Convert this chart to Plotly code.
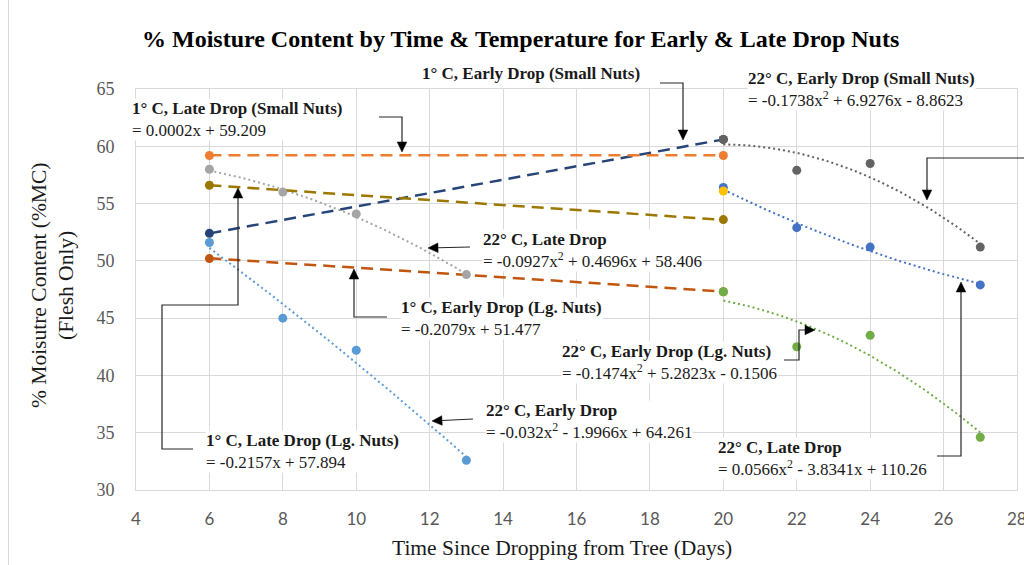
import numpy as np
import plotly.graph_objects as go

# ---------------- data ----------------
x_early_1 = [6, 20]
y_1c_early_small = [52.4, 60.6]
y_1c_late_small = [59.2, 59.2]
y_1c_late_lg = [56.6, 53.6]
y_1c_early_lg = [50.2, 47.3]

x_22_late = [6, 8, 10, 13]
y_22c_late_drop_gray = [58.0, 56.0, 54.1, 48.8]
y_22c_early_drop_lblue = [51.6, 45.0, 42.2, 32.6]

x_22_2 = [20, 22, 24, 27]
y_22c_early_small = [60.6, 57.9, 58.5, 51.2]
y_22c_late_blue = [56.4, 52.9, 51.2, 47.9]
y_22c_early_lg = [47.3, 42.5, 43.5, 34.6]

x_yellow = [20]
y_yellow = [56.1]

# trend line coefficients as printed in the chart (highest power first)
c_1c_late_small = [0.0002, 59.209]
c_1c_early_lg = [-0.2079, 51.477]
c_1c_late_lg = [-0.2157, 57.894]
c_22c_early_small = [-0.1738, 6.9276, -8.8623]
c_22c_late_gray = [-0.0927, 0.4696, 58.406]
c_22c_early_lblue = [-0.032, -1.9966, 64.261]
c_22c_early_lg = [-0.1474, 5.2823, -0.1506]
c_22c_late_blue = [0.0566, -3.8341, 110.26]

x_ticks = [4, 6, 8, 10, 12, 14, 16, 18, 20, 22, 24, 26, 28]
y_ticks = [30, 35, 40, 45, 50, 55, 60, 65]

# ---------------- layout geometry (pixels) ----------------
W, H = 1024, 565
L, R, T, B = 136, 1017, 89, 490


def px2x(px):
    return (px - L) / (R - L)


def py2y(py):
    return (B - py) / (B - T)


NAVY = "#264478"
ORANGE = "#ED7D31"
OLIVE = "#9C7800"
BROWN = "#C0560F"
LGRAY = "#A5A5A5"
LBLUE = "#5B9BD5"
DGRAY = "#636363"
BLUE = "#4472C4"
YELLOW = "#FFC000"
GREEN = "#70AD47"

fig = go.Figure()


def trend(xs, coefs, color, dash, width):
    xx = np.linspace(min(xs), max(xs), 80)
    yy = np.polyval(coefs, xx)
    fig.add_trace(go.Scatter(x=xx, y=yy, mode="lines",
                             line=dict(color=color, dash=dash, width=width),
                             hoverinfo="skip", showlegend=False))


def pts(xs, ys, color):
    fig.add_trace(go.Scatter(x=xs, y=ys, mode="markers",
                             marker=dict(color=color, size=9),
                             showlegend=False))


DASH = "12px,7px"
DOT = "2px,3px"

# 22 C dotted trend lines
trend(x_22_late, c_22c_late_gray, LGRAY, DOT, 2)
trend(x_22_late, c_22c_early_lblue, LBLUE, DOT, 2)
trend(x_22_2, c_22c_early_small, DGRAY, DOT, 2)
trend(x_22_2, c_22c_late_blue, BLUE, DOT, 2)
trend(x_22_2, c_22c_early_lg, GREEN, DOT, 2)

# 1 C dashed trend lines
c_navy = np.polyfit(x_early_1, y_1c_early_small, 1)
trend(x_early_1, c_navy, NAVY, DASH, 2.5)
trend(x_early_1, c_1c_late_small, ORANGE, DASH, 2.5)
trend(x_early_1, c_1c_late_lg, OLIVE, DASH, 2.5)
trend(x_early_1, c_1c_early_lg, BROWN, DASH, 2.5)

# points
pts(x_early_1, y_1c_early_small, NAVY)
pts(x_early_1, y_1c_late_small, ORANGE)
pts(x_early_1, y_1c_late_lg, OLIVE)
pts(x_early_1, y_1c_early_lg, BROWN)
pts(x_22_late, y_22c_late_drop_gray, LGRAY)
pts(x_22_late, y_22c_early_drop_lblue, LBLUE)
pts(x_22_2, y_22c_early_small, DGRAY)
pts(x_22_2, y_22c_late_blue, BLUE)
pts(x_yellow, y_yellow, YELLOW)
pts(x_22_2, y_22c_early_lg, GREEN)


# ---------------- labels ----------------
def fmt_eq(c):
    def term(v, p, first):
        s = f"{abs(v):g}"
        if p == 2:
            s += "x<sup>2</sup>"
        elif p == 1:
            s += "x"
        if first:
            return ("-" if v < 0 else "") + s
        return (" - " if v < 0 else " + ") + s
    n = len(c) - 1
    return "= " + "".join(term(v, n - i, i == 0) for i, v in enumerate(c))


SERIF = "Liberation Serif"
labels = [
    ("1° C, Late Drop (Small Nuts)", c_1c_late_small, 131, 108, 130),
    ("1° C, Early Drop (Small Nuts)", None, 421, 73, None),
    ("22° C, Early Drop (Small Nuts)", c_22c_early_small, 747, 78, 101),
    ("22° C, Late Drop", c_22c_late_gray, 482, 239, 262),
    ("1° C, Early Drop (Lg. Nuts)", c_1c_early_lg, 400, 308, 329),
    ("22° C, Early Drop (Lg. Nuts)", c_22c_early_lg, 561, 352, 373),
    ("1° C, Late Drop (Lg. Nuts)", c_1c_late_lg, 205, 440, 462),
    ("22° C, Early Drop", c_22c_early_lblue, 485, 411, 432),
    ("22° C, Late Drop", c_22c_late_blue, 717, 448, 469),
]

annotations = []
for name, coefs, left, yb, ye in labels:
    if coefs is None:
        txt = f"<b>{name}</b>"
        yc = yb
    else:
        txt = f"<b>{name}</b><br>{fmt_eq(coefs)}"
        yc = (yb + ye) / 2
    annotations.append(dict(text=txt, x=px2x(left), y=py2y(yc), xref="paper", yref="paper",
                            xanchor="left", yanchor="middle", align="left", showarrow=False,
                            bgcolor="white", borderpad=0,
                            font=dict(family=SERIF, size=17, color="#1a1a1a")))

# title & axis titles
annotations.append(dict(text="<b>% Moisture Content by Time & Temperature for Early & Late Drop Nuts</b>",
                        x=px2x(520), y=py2y(39), xref="paper", yref="paper", showarrow=False,
                        xanchor="center", yanchor="middle",
                        font=dict(family=SERIF, size=24, color="#000000")))
annotations.append(dict(text="Time Since Dropping from Tree (Days)",
                        x=px2x(562), y=py2y(548), xref="paper", yref="paper", showarrow=False,
                        xanchor="center", yanchor="middle",
                        font=dict(family=SERIF, size=21.5, color="#1a1a1a")))
annotations.append(dict(text="% Moisutre Content (%MC)",
                        x=px2x(39), y=py2y(286), xref="paper", yref="paper", showarrow=False,
                        xanchor="center", yanchor="middle", textangle=-90,
                        font=dict(family=SERIF, size=21.5, color="#1a1a1a")))
annotations.append(dict(text="(Flesh Only)",
                        x=px2x(66), y=py2y(286), xref="paper", yref="paper", showarrow=False,
                        xanchor="center", yanchor="middle", textangle=-90,
                        font=dict(family=SERIF, size=21.5, color="#1a1a1a")))
# last x tick label, partly outside the page as in the reference
annotations.append(dict(text=str(x_ticks[-1]), x=x_ticks[-1], y=py2y(518), xref="x", yref="paper",
                        showarrow=False, xanchor="center", yanchor="middle",
                        font=dict(family="Lato", size=17, color="#595959")))

# ---------------- connectors ----------------
connectors = [
    [(379, 117), (402, 117), (402, 152)],
    [(660, 83), (683, 83), (683, 140)],
    [(1030, 158), (927, 158), (927, 200)],
    [(470, 247), (428, 248)],
    [(387, 317), (354, 317), (354, 269)],
    [(784, 360), (799, 360), (799, 330), (815, 330)],
    [(193, 449), (162, 449), (162, 305), (238, 305), (238, 188)],
    [(473, 419), (432, 421)],
    [(937, 456), (961, 456), (961, 282)],
]

shapes = []
LC = "#262626"
for poly in connectors:
    (x1, y1), (x2, y2) = poly[-2], poly[-1]
    d = np.hypot(x2 - x1, y2 - y1)
    ux, uy = (x2 - x1) / d, (y2 - y1) / d
    hl, hw = 10, 4.8
    bx, by = x2 - ux * hl, y2 - uy * hl
    pts_line = poly[:-1] + [(bx, by)]
    path = "M " + " L ".join(f"{px2x(a):.5f},{py2y(b):.5f}" for a, b in pts_line)
    shapes.append(dict(type="path", path=path, xref="paper", yref="paper",
                       line=dict(color=LC, width=1.2)))
    p1 = (bx - uy * hw, by + ux * hw)
    p2 = (bx + uy * hw, by - ux * hw)
    tri = f"M {px2x(x2):.5f},{py2y(y2):.5f} L {px2x(p1[0]):.5f},{py2y(p1[1]):.5f} L {px2x(p2[0]):.5f},{py2y(p2[1]):.5f} Z"
    shapes.append(dict(type="path", path=tri, xref="paper", yref="paper",
                       line=dict(color="#000000", width=0.5), fillcolor="#000000"))

# outer chart border on the left
shapes.append(dict(type="line", xref="paper", yref="paper", x0=px2x(8.5), x1=px2x(8.5),
                   y0=py2y(0), y1=py2y(565), line=dict(color="#D9D9D9", width=1)))

fig.update_layout(
    width=W, height=H,
    margin=dict(l=L, r=W - R, t=T, b=H - B),
    paper_bgcolor="white", plot_bgcolor="white",
    showlegend=False,
    annotations=annotations,
    shapes=shapes,
    xaxis=dict(range=[4, 28], tickvals=x_ticks, showgrid=True, gridcolor="#D9D9D9", gridwidth=1,
               zeroline=False, showline=True, linecolor="#D9D9D9", mirror=True,
               ticks="", ticklabelstandoff=14,
               tickfont=dict(family="Lato", size=17, color="#595959")),
    yaxis=dict(range=[30, 65], tickvals=y_ticks, showgrid=True, gridcolor="#D9D9D9", gridwidth=1,
               zeroline=False, showline=True, linecolor="#D9D9D9", mirror=True,
               ticks="", ticklabelstandoff=17,
               tickfont=dict(family=SERIF, size=18, color="#595959")),
)

fig.write_html("out.html")
